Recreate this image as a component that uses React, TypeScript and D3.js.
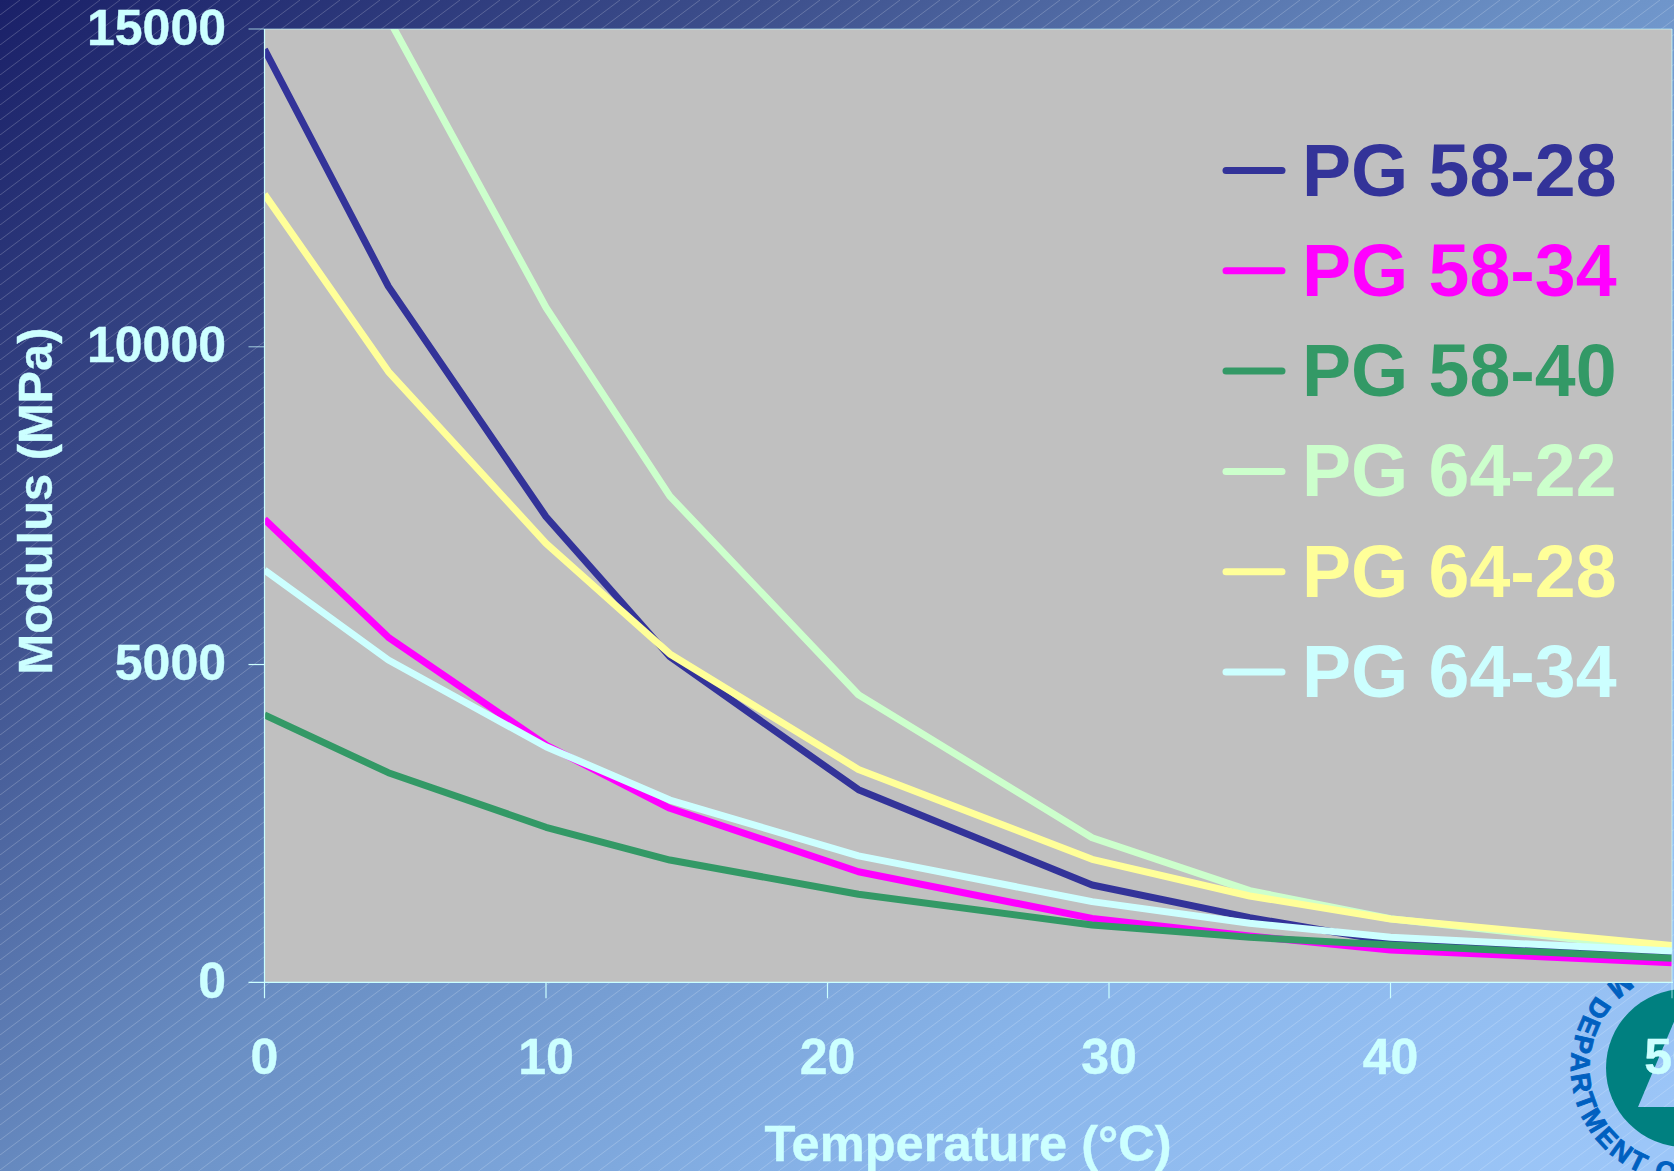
import React from "react";
import * as d3 from "d3";

const WIDTH = 1674;
const HEIGHT = 1171;

// Test temperatures (°C) shared by every binder grade
const temperatures = [0, 4.4, 10, 14.4, 21.1, 29.4, 35, 40, 50];

// Modulus (MPa) per binder grade
const pg5828 = [14680, 10950, 7326, 5123, 3030, 1531, 1017, 640, 450];
const pg5834 = [7285, 5428, 3734, 2738, 1740, 1006, 728, 508, 309];
const pg5840 = [4206, 3298, 2439, 1924, 1385, 902, 708, 587, 377];
const pg6422 = [20000, 15170, 10618, 7650, 4525, 2275, 1442, 1000, 508];
const pg6428 = [12400, 9610, 6907, 5166, 3350, 1935, 1358, 996, 578];
const pg6434 = [6487, 5071, 3707, 2868, 1990, 1269, 928, 708, 492];

const seriesNames = ["PG 58-28", "PG 58-34", "PG 58-40", "PG 64-22", "PG 64-28", "PG 64-34"];
const seriesValues = [pg5828, pg5834, pg5840, pg6422, pg6428, pg6434];
const seriesColors = ["#333399", "#ff00ff", "#339966", "#ccffcc", "#ffff99", "#ccffff"];

const xTicks = [0, 10, 20, 30, 40, 50];
const yTicks = [0, 5000, 10000, 15000];

const INK = "#ccffff";
const FONT = "'Liberation Sans', Arial, sans-serif";

const plot = { left: 264.5, right: 1672, top: 29, bottom: 982.3 };

export default function App() {
  const x = d3.scaleLinear().domain([0, 50]).range([plot.left, plot.right]);
  const y = d3.scaleLinear().domain([0, 15000]).range([plot.bottom, plot.top]);
  const line = d3
    .line<number>()
    .x((_, i) => x(temperatures[i]))
    .y((d) => y(d));

  // Seal geometry, partly running off the page edge
  const seal = { cx: 1685, cy: 1068, r: 79, textR: 114 };
  const ringPath = `M ${seal.cx} ${seal.cy - seal.textR} A ${seal.textR} ${seal.textR} 0 1 0 ${seal.cx} ${seal.cy + seal.textR} A ${seal.textR} ${seal.textR} 0 0 0 ${seal.cx + seal.textR} ${seal.cy}`;

  return (
    <svg
      width={WIDTH}
      height={HEIGHT}
      viewBox={`0 0 ${WIDTH} ${HEIGHT}`}
      style={{ position: "absolute", left: 0, top: 0, display: "block" }}
      fontFamily={FONT}
      fontWeight={700}
    >
      <defs>
        <linearGradient id="bg" gradientUnits="userSpaceOnUse" x1={0} y1={0} x2={1200} y2={1500}>
          <stop offset="0" stopColor="#1a2068" />
          <stop offset="0.25" stopColor="#3d4f8c" />
          <stop offset="0.5" stopColor="#6a8fc4" />
          <stop offset="0.75" stopColor="#88b4e9" />
          <stop offset="1" stopColor="#9cc6f8" />
        </linearGradient>
        <pattern id="hatch" patternUnits="userSpaceOnUse" width={20} height={15}>
          <line x1={-1} y1={15.75} x2={21} y2={-0.75} stroke="#ffffff" strokeOpacity={0.2} strokeWidth={1} />
        </pattern>
        <clipPath id="plotClip">
          <rect x={plot.left} y={plot.top} width={plot.right - plot.left} height={plot.bottom - plot.top} />
        </clipPath>
      </defs>

      <rect width={WIDTH} height={HEIGHT} fill="url(#bg)" />
      <rect width={WIDTH} height={HEIGHT} fill="url(#hatch)" />

      {/* Agency seal in the lower right corner */}
      <g>
        <circle cx={seal.cx} cy={seal.cy} r={seal.r} fill="#008080" />
        <polygon points="1638,1107 1700,960 1720,1107" fill="url(#bg)" />
        <polygon points="1638,1107 1700,960 1720,1107" fill="url(#hatch)" />
        <path id="ring" d={ringPath} fill="none" />
        <text fontSize={27} fill="#0060c0" stroke="#0060c0" strokeWidth={0.9} letterSpacing={3}>
          <textPath href="#ring" startOffset={64.5}>
            M DEPARTMENT OF
          </textPath>
        </text>
      </g>

      {/* Plot area */}
      <rect
        x={plot.left}
        y={plot.top}
        width={plot.right - plot.left}
        height={plot.bottom - plot.top}
        fill="#c0c0c0"
      />

      <g clipPath="url(#plotClip)">
        {seriesValues.map((values, i) => (
          <path
            key={seriesNames[i]}
            d={line(values) ?? ""}
            fill="none"
            stroke={seriesColors[i]}
            strokeWidth={7}
            strokeLinejoin="round"
          />
        ))}
      </g>

      {/* Axes */}
      <g stroke={INK} strokeWidth={1.2} fill="none">
        <line x1={plot.left} x2={plot.left} y1={plot.top} y2={plot.bottom + 16} />
        <line x1={plot.left - 16} x2={plot.right + 1} y1={plot.bottom} y2={plot.bottom} />
        <line x1={plot.left} x2={plot.right} y1={plot.top} y2={plot.top} strokeOpacity={0.6} />
        <line x1={plot.right} x2={plot.right} y1={plot.top} y2={plot.bottom + 16} strokeOpacity={0.6} />
        {xTicks.slice(1, -1).map((t) => (
          <line key={t} x1={x(t)} x2={x(t)} y1={plot.bottom} y2={plot.bottom + 16} />
        ))}
        {yTicks.slice(1).map((t) => (
          <line key={t} x1={plot.left - 16} x2={plot.left} y1={y(t)} y2={y(t)} strokeOpacity={t > 5000 ? 0.6 : 1} />
        ))}
      </g>

      <g fill={INK} fontSize={50} stroke={INK} strokeWidth={0.4}>
        {yTicks.map((t) => (
          <text key={t} x={226} y={y(t) + 15.5} textAnchor="end">
            {t}
          </text>
        ))}
        {xTicks.map((t) => (
          <text key={t} x={x(t)} y={1074} textAnchor="middle">
            {t}
          </text>
        ))}
        <text x={968} y={1161} textAnchor="middle" fontSize={50.6}>
          Temperature (°C)
        </text>
        <text transform="translate(52,501) rotate(-90)" textAnchor="middle" fontSize={48.8}>
          Modulus (MPa)
        </text>
      </g>

      {/* Legend */}
      <g>
        {seriesNames.map((name, i) => {
          const baseline = 195.5 + i * 100.3;
          return (
            <g key={name}>
              <line
                x1={1226}
                x2={1282}
                y1={baseline - 25}
                y2={baseline - 25}
                stroke={seriesColors[i]}
                strokeWidth={7}
                strokeLinecap="round"
              />
              <text x={1302} y={baseline} fontSize={73.5} fill={seriesColors[i]}>
                {name}
              </text>
            </g>
          );
        })}
      </g>
    </svg>
  );
}
